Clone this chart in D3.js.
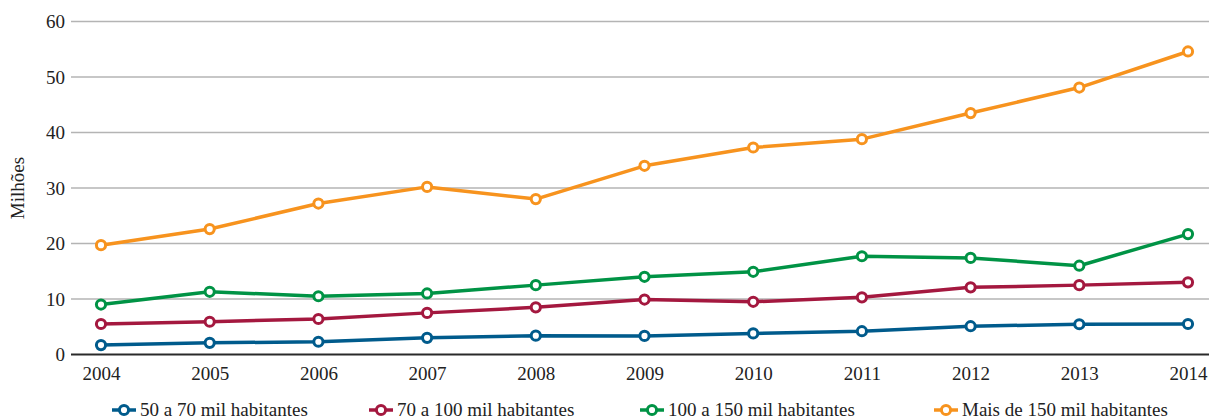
<!DOCTYPE html>
<html>
<head>
<meta charset="utf-8">
<script src="https://cdn.jsdelivr.net/npm/d3@7"></script>
<style>
  html, body { margin: 0; padding: 0; background: #fff; }
  svg { display: block; }
  svg text { font-family: "Liberation Serif", "DejaVu Serif", "Tinos", "Times New Roman", Times, serif !important; fill: #222; }
</style>
</head>
<body>
<svg id="chart" width="1209" height="419"></svg>
<script>
// Years on the horizontal axis
const years = [2004, 2005, 2006, 2007, 2008, 2009, 2010, 2011, 2012, 2013, 2014];

// Values in millions, one array per population band
const band50to70   = [1.7, 2.1, 2.3, 3.0, 3.4, 3.35, 3.8, 4.2, 5.1, 5.45, 5.5];
const band70to100  = [5.5, 5.9, 6.4, 7.5, 8.5, 9.9, 9.5, 10.3, 12.1, 12.5, 13.0];
const band100to150 = [9.0, 11.3, 10.5, 11.0, 12.5, 14.0, 14.9, 17.7, 17.4, 16.0, 21.7];
const bandOver150  = [19.7, 22.6, 27.2, 30.2, 28.0, 34.0, 37.3, 38.8, 43.5, 48.1, 54.6];

const seriesNames  = ["50 a 70 mil habitantes", "70 a 100 mil habitantes",
                      "100 a 150 mil habitantes", "Mais de 150 mil habitantes"];
const seriesColors = ["#005b8c", "#a4183f", "#009345", "#f7931e"];
const yTicks = [0, 10, 20, 30, 40, 50, 60];
const yTitle = "Milhões";

const series = [band50to70, band70to100, band100to150, bandOver150].map((vals, i) => ({
  name: seriesNames[i],
  color: seriesColors[i],
  values: vals.map((v, j) => ({ year: years[j], value: v }))
}));

const FONT = "'Liberation Serif', 'DejaVu Serif', Tinos, 'Times New Roman', serif";
const svg = d3.select("#chart").attr("font-family", FONT);
const gridLeft = 71, gridRight = 1209;

const x = d3.scaleLinear().domain([2004, 2014]).range([101, 1188]);
const y = d3.scaleLinear().domain([0, 60]).range([354.5, 21.5]);

// Horizontal gridlines
svg.append("g")
  .selectAll("line")
  .data(yTicks.filter(d => d !== 0))
  .join("line")
  .attr("x1", gridLeft).attr("x2", gridRight)
  .attr("y1", d => y(d)).attr("y2", d => y(d))
  .attr("stroke", "#b4b4b4")
  .attr("stroke-width", 1.5);

// Baseline
svg.append("line")
  .attr("x1", gridLeft).attr("x2", gridRight)
  .attr("y1", y(0)).attr("y2", y(0))
  .attr("stroke", "#2a2a2a")
  .attr("stroke-width", 1.8);

// Y axis labels
const yAxis = d3.axisLeft(y).tickValues(yTicks).tickSize(0).tickPadding(0).tickFormat(d3.format("d"));
const yg = svg.append("g").attr("transform", `translate(${gridLeft - 6},0)`).call(yAxis);
yg.attr("font-family", FONT).attr("font-size", 19);
yg.select(".domain").remove();
yg.selectAll("text")
  .style("font-family", FONT)
  .attr("fill", "#222")
  .attr("dy", "0.34em");

// X axis labels
const xAxis = d3.axisBottom(x).tickValues(years).tickSize(0).tickPadding(0).tickFormat(d3.format("d"));
const xg = svg.append("g").attr("transform", `translate(0,${y(0) + 12})`).call(xAxis);
xg.attr("font-family", FONT).attr("font-size", 19);
xg.select(".domain").remove();
xg.selectAll("text")
  .style("font-family", FONT)
  .attr("fill", "#222")
  .attr("dy", "0.72em");

// Y axis title
svg.append("text")
  .attr("transform", `translate(24,188) rotate(-90)`)
  .attr("text-anchor", "middle")
  .attr("font-size", 19)
  .style("font-family", FONT)
  .text(yTitle);

// Lines and markers
const line = d3.line().x(d => x(d.year)).y(d => y(d.value));

const sg = svg.append("g")
  .selectAll("g")
  .data(series)
  .join("g");

sg.append("path")
  .attr("d", d => line(d.values))
  .attr("fill", "none")
  .attr("stroke", d => d.color)
  .attr("stroke-width", 3.5)
  .attr("stroke-linejoin", "round");

sg.selectAll("circle")
  .data(d => d.values.map(v => ({ ...v, color: d.color })))
  .join("circle")
  .attr("cx", d => x(d.year))
  .attr("cy", d => y(d.value))
  .attr("r", 4.6)
  .attr("fill", "#fff")
  .attr("stroke", d => d.color)
  .attr("stroke-width", 3);

// Legend along the bottom
const legendX = [112, 369, 640, 934];
const legendY = 410;
const lg = svg.append("g")
  .selectAll("g")
  .data(series)
  .join("g")
  .attr("transform", (d, i) => `translate(${legendX[i]},${legendY})`);

lg.append("line")
  .attr("x1", 0).attr("x2", 24)
  .attr("stroke", d => d.color)
  .attr("stroke-width", 3.5);

lg.append("circle")
  .attr("cx", 12).attr("r", 4.6)
  .attr("fill", "#fff")
  .attr("stroke", d => d.color)
  .attr("stroke-width", 3);

lg.append("text")
  .attr("x", 28)
  .attr("dy", "0.34em")
  .attr("font-size", 19)
  .style("font-family", FONT)
  .text(d => d.name);
</script>
</body>
</html>
